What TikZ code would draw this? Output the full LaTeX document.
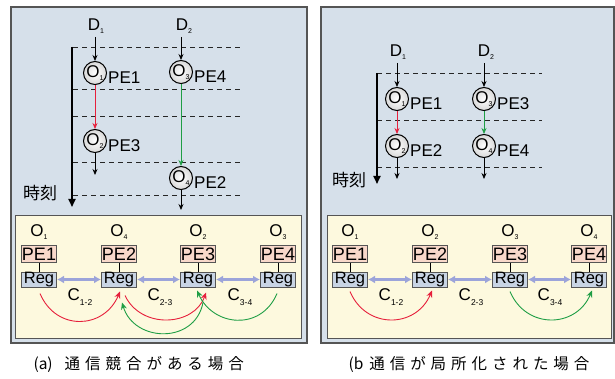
\documentclass[tikz,border=0pt]{standalone}
\usepackage{fontspec}
\setmainfont{Liberation Sans}
\newfontfamily\jpfont{Noto Sans CJK JP}
\newfontfamily\capfont[LetterSpace=32]{Noto Sans CJK JP}
\usetikzlibrary{arrows.meta}
\definecolor{panelbg}{HTML}{D6E0EA}
\definecolor{boxbg}{HTML}{FDF9DE}
\definecolor{pefill}{HTML}{F8D8CA}
\definecolor{regfill}{HTML}{C8D4E4}
\definecolor{linkblue}{HTML}{9CA4DA}
\definecolor{msgred}{HTML}{E6203C}
\definecolor{msggreen}{HTML}{1F9E45}
\definecolor{frame}{HTML}{555555}
\newcommand{\sbx}[1]{\raisebox{-3pt}{\fontsize{7}{8}\selectfont #1}}
\newcommand{\csb}[1]{\raisebox{-5pt}{\fontsize{8.5}{9}\selectfont #1}}
\begin{document}
\begin{tikzpicture}[x=1pt,y=-1pt,every node/.style={font=\fontsize{17}{19}\selectfont}]
    \tikzset{
      panel/.style={draw=frame,line width=1.5pt,fill=panelbg},
      board/.style={draw=frame,line width=1pt,fill=boxbg},
      op/.style={circle,draw=black,line width=1pt,inner color=white,
        outer color=gray!30,minimum size=23pt,inner sep=0pt},
      pelab/.style={anchor=west,inner sep=1pt,yshift=-5pt},
      pe/.style={draw=frame,line width=1pt,fill=pefill,minimum width=34pt,
        minimum height=17pt,inner sep=0pt,font=\fontsize{18}{19}\selectfont},
      reg/.style={draw=frame,line width=1pt,fill=regfill,minimum width=35pt,
        minimum height=15pt,inner sep=0pt,font=\fontsize{16.5}{17}\selectfont},
      stem/.style={line width=0.9pt},
      guide/.style={dash pattern=on 5pt off 4pt,draw=gray!30!black,line width=0.8pt},
      flow/.style={-{Stealth[length=6pt,width=5pt]},line width=0.8pt},
      link/.style={{Latex[length=7pt,width=8pt]}-{Latex[length=7pt,width=8pt]},
        draw=linkblue,line width=2.2pt},
      msg/.style={-{Stealth[length=7pt,width=6pt]},line width=0.9pt},
      axis/.style={-{Triangle[length=8pt,width=7pt]},line width=1.8pt},
      jp/.style={font=\jpfont\fontsize{17}{19}\selectfont},
      captxt/.style={anchor=west,font=\capfont\fontsize{15.5}{18}\selectfont}
    }
    \useasboundingbox (0,0) rectangle (615,379);
    \draw[panel] (11,7) rectangle (307,343);
    \draw[panel] (321,7) rectangle (614,343);
    \draw[board] (15,216) rectangle (301,338);
    \draw[board] (327,216) rectangle (611,338);

    % (a) timing
    \foreach \y in {47,89,116,162,195} \draw[guide] (73,\y) -- (240,\y);
    \coordinate (ta0) at (72,47);
    \coordinate (ta1) at (72,207);
    \draw[axis] (ta0) -- (ta1);
    \node[jp] (tla) at (40,193) {時刻};

    \node (da1) at (96,26) {D\sbx{1}};
    \node (da2) at (184,26) {D\sbx{2}};
    \node[op,label={[pelab]east:PE1}] (oa1) at (95,73) {O\sbx{1}};
    \node[op,label={[pelab]east:PE3}] (oa2) at (95,141) {O\sbx{2}};
    \node[op,label={[pelab]east:PE4}] (oa3) at (181,72) {O\sbx{3}};
    \node[op,label={[pelab]east:PE2}] (oa4) at (181,178) {O\sbx{4}};
    \coordinate (ea2) at (95,175);
    \coordinate (ea4) at (181,210);
    \draw[flow] (da1.south -| oa1) -- (oa1);
    \draw[flow] (da2.south -| oa3) -- (oa3);
    \draw[flow,msgred] (oa1) -- (oa2);
    \draw[flow,msggreen] (oa3) -- (oa4);
    \draw[flow] (oa2) -- (ea2);
    \draw[flow] (oa4) -- (ea4);

    % (a) placement
    \node (la1) at (39,232) {O\sbx{1}};
    \node (la2) at (119,232) {O\sbx{4}};
    \node (la3) at (198,232) {O\sbx{2}};
    \node (la4) at (278,232) {O\sbx{3}};
    \node[pe] (pa1) at (39,254) {PE1};
    \node[pe] (pa2) at (119,254) {PE2};
    \node[pe] (pa3) at (198,254) {PE3};
    \node[pe] (pa4) at (278,254) {PE4};
    \node[reg] (ra1) at (39,279.5) {Reg};
    \node[reg] (ra2) at (119,279.5) {Reg};
    \node[reg] (ra3) at (198,279.5) {Reg};
    \node[reg] (ra4) at (278,279.5) {Reg};
    \draw[stem] (pa1) -- (ra1);
    \draw[stem] (pa2) -- (ra2);
    \draw[stem] (pa3) -- (ra3);
    \draw[stem] (pa4) -- (ra4);
    \draw[link] (ra1) -- (ra2);
    \draw[link] (ra2) -- (ra3);
    \draw[link] (ra3) -- (ra4);
    \node (ca1) at (80,297) {C\csb{1-2}};
    \node (ca2) at (160,297) {C\csb{2-3}};
    \node (ca3) at (240,297) {C\csb{3-4}};
    \draw[msg,msgred] ([xshift=1pt,yshift=-6pt]ra1.south)
      .. controls +(16,38) and +(-16,38) .. ([xshift=1pt,yshift=-4pt]ra2.south);
    \draw[msg,msgred] ([xshift=6pt,yshift=-8pt]ra2.south)
      .. controls +(16,34) and +(-12,34) .. ([xshift=8pt,yshift=-5pt]ra3.south);
    \draw[msg,msggreen] ([xshift=5pt,yshift=-15pt]ra3.south)
      .. controls +(-8,42) and +(12,40) .. ([xshift=3pt,yshift=-15pt]ra2.south);
    \draw[msg,msggreen] ([xshift=-1pt,yshift=-6pt]ra4.south)
      .. controls +(-16,38) and +(16,36) .. ([xshift=-1pt,yshift=-3pt]ra3.south);

    % (b) timing
    \foreach \y in {73,120,167} \draw[guide] (377,\y) -- (542,\y);
    \coordinate (tb0) at (377,73);
    \coordinate (tb1) at (377,184);
    \draw[axis] (tb0) -- (tb1);
    \node[jp] (tlb) at (349,180) {時刻};

    \node (db1) at (398,52) {D\sbx{1}};
    \node (db2) at (486,52) {D\sbx{2}};
    \node[op,label={[pelab]east:PE1}] (ob1) at (397,99) {O\sbx{1}};
    \node[op,label={[pelab]east:PE2}] (ob2) at (397,146) {O\sbx{2}};
    \node[op,label={[pelab]east:PE3}] (ob3) at (484,99) {O\sbx{3}};
    \node[op,label={[pelab]east:PE4}] (ob4) at (484,146) {O\sbx{4}};
    \coordinate (eb2) at (397,179);
    \coordinate (eb4) at (484,179);
    \draw[flow] (db1.south -| ob1) -- (ob1);
    \draw[flow] (db2.south -| ob3) -- (ob3);
    \draw[flow,msgred] (ob1) -- (ob2);
    \draw[flow,msggreen] (ob3) -- (ob4);
    \draw[flow] (ob2) -- (eb2);
    \draw[flow] (ob4) -- (eb4);

    % (b) placement
    \node (lb1) at (350,232) {O\sbx{1}};
    \node (lb2) at (430,232) {O\sbx{2}};
    \node (lb3) at (510,232) {O\sbx{3}};
    \node (lb4) at (589,232) {O\sbx{4}};
    \node[pe] (pb1) at (350,254) {PE1};
    \node[pe] (pb2) at (430,254) {PE2};
    \node[pe] (pb3) at (510,254) {PE3};
    \node[pe] (pb4) at (589,254) {PE4};
    \node[reg] (rb1) at (350,279.5) {Reg};
    \node[reg] (rb2) at (430,279.5) {Reg};
    \node[reg] (rb3) at (510,279.5) {Reg};
    \node[reg] (rb4) at (589,279.5) {Reg};
    \draw[stem] (pb1) -- (rb1);
    \draw[stem] (pb2) -- (rb2);
    \draw[stem] (pb3) -- (rb3);
    \draw[stem] (pb4) -- (rb4);
    \draw[link] (rb1) -- (rb2);
    \draw[link] (rb2) -- (rb3);
    \draw[link] (rb3) -- (rb4);
    \node (cb1) at (391,297) {C\csb{1-2}};
    \node (cb2) at (471,297) {C\csb{2-3}};
    \node (cb3) at (550,297) {C\csb{3-4}};
    \draw[msg,msgred] ([yshift=-4pt]rb1.south)
      .. controls +(16,38) and +(-16,38) .. ([xshift=2pt,yshift=-3pt]rb2.south);
    \draw[msg,msggreen] ([yshift=-4pt]rb3.south)
      .. controls +(16,38) and +(-16,38) .. ([xshift=3pt,yshift=-3pt]rb4.south);

    \node[captxt] (capa) at (30,364) {{\jpfont(a)}\hspace{12pt}通信競合がある場合};
    \node[captxt] (capb) at (345,364) {{\jpfont(b}\hspace{6pt}通信が局所化された場合};
  \end{tikzpicture}
\end{document}
